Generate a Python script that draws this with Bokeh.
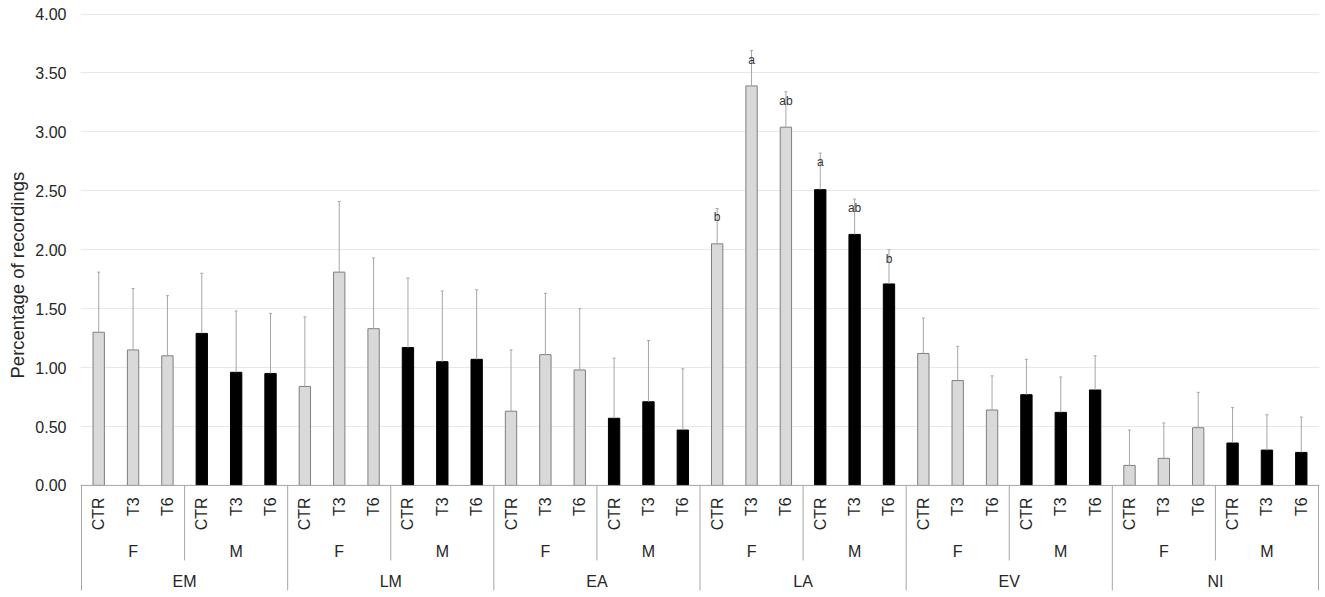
from math import pi
from bokeh.plotting import figure
from bokeh.models import (FactorRange, ColumnDataSource, FixedTicker, NumeralTickFormatter,
                          Range1d, Span, Title)
from bokeh.embed import file_html
from bokeh.resources import INLINE
from bokeh.core.properties import value

# ---------------- data ----------------
groups = ["EM", "LM", "EA", "LA", "EV", "NI"]
sexes = ["F", "M"]
treatments = ["CTR", "T3", "T6"]

# means, ordered group by group, CTR/T3/T6 inside each group
female_means = [1.30, 1.15, 1.10,
                0.84, 1.81, 1.33,
                0.63, 1.11, 0.98,
                2.05, 3.39, 3.04,
                1.12, 0.89, 0.64,
                0.17, 0.23, 0.49]
male_means = [1.29, 0.96, 0.95,
              1.17, 1.05, 1.07,
              0.57, 0.71, 0.47,
              2.51, 2.13, 1.71,
              0.77, 0.62, 0.81,
              0.36, 0.30, 0.28]
female_se = [0.51, 0.52, 0.51,
             0.59, 0.60, 0.60,
             0.52, 0.52, 0.52,
             0.30, 0.30, 0.30,
             0.30, 0.29, 0.29,
             0.30, 0.30, 0.30]
male_se = [0.51, 0.52, 0.51,
           0.59, 0.60, 0.59,
           0.51, 0.52, 0.52,
           0.31, 0.30, 0.29,
           0.30, 0.30, 0.29,
           0.30, 0.30, 0.30]
sig_group = "LA"
sig_female = ["b", "a", "ab"]
sig_male = ["a", "ab", "b"]
y_ticks = [0.0, 0.5, 1.0, 1.5, 2.0, 2.5, 3.0, 3.5, 4.0]
y_title = "Percentage of recordings"

FONT = "Liberation Sans"
TXT = "#262626"
AXIS = "#a6a6a6"

# ---------------- build table ----------------
factors, tops, errs, fills, lines, letters = [], [], [], [], [], []
for gi, g in enumerate(groups):
    for s, means, ses, sig, fc, lc in (("F", female_means, female_se, sig_female, "#d9d9d9", "#7f7f7f"),
                                       ("M", male_means, male_se, sig_male, "#000000", "#000000")):
        for ti, t in enumerate(treatments):
            k = gi * 3 + ti
            factors.append((g, s, t))
            tops.append(means[k])
            errs.append(means[k] + ses[k])
            fills.append(fc)
            lines.append(lc)
            letters.append(sig[ti] if g == sig_group else "")

src = ColumnDataSource(dict(x=factors, top=tops, err=errs, fill=fills, line=lines, letter=letters))

xr = FactorRange(factors=factors, factor_padding=0, subgroup_padding=0, group_padding=0,
                 range_padding=0.03, range_padding_units="absolute")

# y range: bars from 0 to 4.03, plus room below 0 for the category table
Y_TOP, Y_BOT = 4.03, -0.90
FRAME_H = 581
PX = (Y_TOP - Y_BOT) / FRAME_H          # data units per pixel

p = figure(x_range=xr, y_range=Range1d(Y_BOT, Y_TOP), width=1324, height=FRAME_H + 10,
           output_backend="svg", toolbar_location=None, x_axis_location=None,
           min_border_left=80, min_border_right=5, min_border_top=10, min_border_bottom=0)
p.outline_line_color = None
p.xgrid.grid_line_color = None
p.ygrid.grid_line_color = "#e8e8e8"
p.yaxis.ticker = FixedTicker(ticks=y_ticks)
p.yaxis.formatter = NumeralTickFormatter(format="0.00")
p.yaxis.axis_line_color = None
p.yaxis.major_tick_line_color = None
p.yaxis.minor_tick_line_color = None
p.yaxis.major_tick_out = 0
p.yaxis.major_tick_in = 0
p.yaxis.major_label_standoff = 14
p.yaxis.major_label_text_font = FONT
p.yaxis.major_label_text_font_size = "16px"
p.yaxis.major_label_text_color = TXT

p.add_layout(Title(text=y_title, align="left", offset=213, standoff=8, vertical_align="middle",
                   text_font=FONT, text_font_size="18.5px", text_font_style="normal",
                   text_color=TXT), "left")

# bars + error bars + significance letters
p.vbar(x="x", top="top", width=0.33, source=src, fill_color="fill", line_color="line", line_width=1)
p.segment(x0="x", y0="top", x1="x", y1="err", source=src, line_color=AXIS, line_width=1)
p.scatter(x="x", y="err", source=src, marker="dash", size=3, line_color=AXIS, line_width=1)
p.text(x="x", y="err", text="letter", source=src, text_align="center", text_baseline="middle",
       y_offset=9, text_font=value(FONT), text_font_size="12px", text_color="#333333")

# ---------------- category table below zero ----------------
p.add_layout(Span(location=0, dimension="width", line_color=AXIS, line_width=1))

gx = [(g, -3) for g in groups] + [(groups[-1], 3)]
p.segment(x0=gx, y0=[0] * len(gx), x1=gx, y1=[-105 * PX] * len(gx), line_color=AXIS, line_width=1)
sx = [(g, "F", 1.5) for g in groups]
p.segment(x0=sx, y0=[0] * len(sx), x1=sx, y1=[-75 * PX] * len(sx), line_color=AXIS, line_width=1)

p.text(x=factors, y=[-12 * PX] * len(factors), text=[f[2] for f in factors], angle=pi / 2,
       text_align="right", text_baseline="middle", text_font=value(FONT),
       text_font_size="16px", text_color=TXT)
sub = [(g, s) for g in groups for s in sexes]
p.text(x=sub, y=[-66 * PX] * len(sub), text=[s for _, s in sub], text_align="center",
       text_baseline="middle", text_font=value(FONT), text_font_size="16px", text_color=TXT)
p.text(x=groups, y=[-96 * PX] * len(groups), text=groups, text_align="center",
       text_baseline="middle", text_font=value(FONT), text_font_size="16px", text_color=TXT)

open("out.html", "w").write(file_html(p, INLINE))
